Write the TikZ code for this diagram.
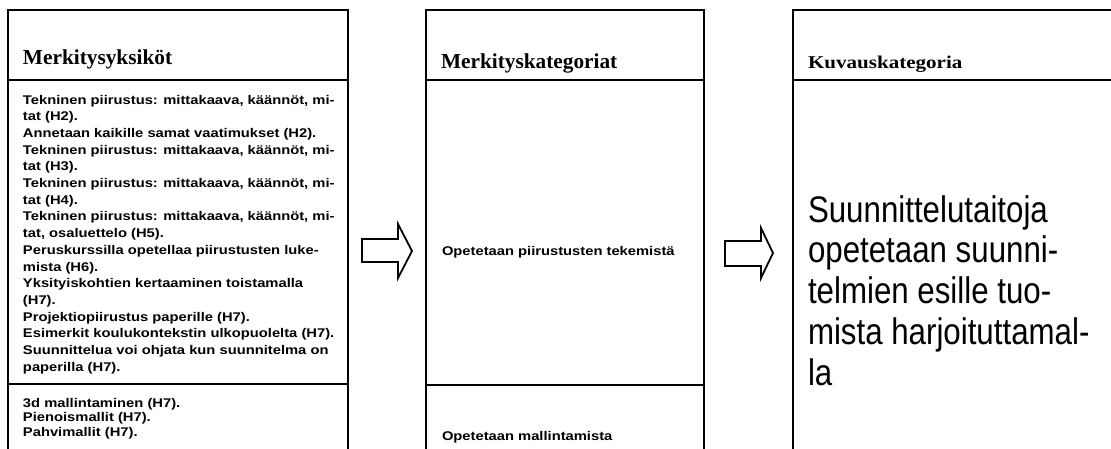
\documentclass[tikz,border=0pt]{standalone}
\usepackage{fontspec}
\setmainfont{Liberation Serif}
\newfontfamily\bodyfont[FakeStretch=1.17]{Liberation Sans}
\newfontfamily\bigfont[FakeStretch=0.845]{Liberation Sans}
\newfontfamily\hdfontw[FakeStretch=1.17]{Liberation Serif}
\tikzset{
  boxline/.style={line width=2.3pt, draw=black},
  blockarrow/.style={line width=1.8pt, draw=black, fill=white, line join=miter},
  txt/.style={anchor=base west, inner sep=0pt, outer sep=0pt},
  hdr/.style={txt, font=\rmfamily\bfseries\fontsize{21.3}{24}\selectfont},
  hdrsmall/.style={txt, font=\hdfontw\bfseries\fontsize{18}{21}\selectfont},
  body/.style={txt, font=\bodyfont\bfseries\fontsize{12.6}{16.7}\selectfont},
  bodytight/.style={txt, font=\bodyfont\bfseries\fontsize{12.6}{14.5}\selectfont},
  big/.style={txt, font=\bigfont\fontsize{37}{40.8}\selectfont}
}
\begin{document}
\begin{tikzpicture}[x=1pt,y=-1pt]
\useasboundingbox (0,0) rectangle (1111,448);
\clip (0,0) rectangle (1111,448);
\fill[white] (0,0) rectangle (1111,448);
% boxes
\draw[boxline] (8,460) -- (8,10) -- (348,10) -- (348,460);
\draw[boxline] (8,80) -- (348,80);
\draw[boxline] (8,384) -- (348,384);
\draw[boxline] (426,460) -- (426,10) -- (704,10) -- (704,460);
\draw[boxline] (426,80) -- (704,80);
\draw[boxline] (426,385) -- (704,385);
\draw[boxline] (793,460) -- (793,10) -- (1120,10);
\draw[boxline] (793,80) -- (1120,80);
% arrows
\draw[blockarrow] (362,239) -- (398,239) -- (398,224) -- (412,251) -- (398,278) -- (398,262) -- (362,262) -- cycle;
\draw[blockarrow] (725,241) -- (761,241) -- (761,228) -- (773,253) -- (761,278) -- (761,266) -- (725,266) -- cycle;
% headers
\node[hdr] (h1) at (23,64) {Merkitysyksiköt};
\node[hdr] (h2) at (441,68) {Merkityskategoriat};
\node[hdrsmall] (h3) at (808,68) {Kuvauskategoria};
% box 1 body
\node[body] (t1) at (23,104) {\parbox[t]{330pt}{\raggedright
Tekninen piirustus: mittakaava, käännöt, mi-\\
tat (H2).\\
Annetaan kaikille samat vaatimukset (H2).\\
Tekninen piirustus: mittakaava, käännöt, mi-\\
tat (H3).\\
Tekninen piirustus: mittakaava, käännöt, mi-\\
tat (H4).\\
Tekninen piirustus: mittakaava, käännöt, mi-\\
tat, osaluettelo (H5).\\
Peruskurssilla opetellaa piirustusten luke-\\
mista (H6).\\
Yksityiskohtien kertaaminen toistamalla\\
(H7).\\
Projektiopiirustus paperille (H7).\\
Esimerkit koulukontekstin ulkopuolelta (H7).\\
Suunnittelua voi ohjata kun suunnitelma on\\
paperilla (H7).\par}};
\node[bodytight] (t2) at (23,407) {\parbox[t]{330pt}{\raggedright
3d mallintaminen (H7).\\
Pienoismallit (H7).\\
Pahvimallit (H7).\par}};
% box 2
\node[body] (c1) at (442,255) {Opetetaan piirustusten tekemistä};
\node[body] (c2) at (442,440) {Opetetaan mallintamista};
% box 3
\node[big] (d1) at (808,222) {\parbox[t]{300pt}{\raggedright
Suunnittelutaitoja\\
opetetaan suunni-\\
telmien esille tuo-\\
mista harjoituttamal-\\
la\par}};
\end{tikzpicture}
\end{document}
